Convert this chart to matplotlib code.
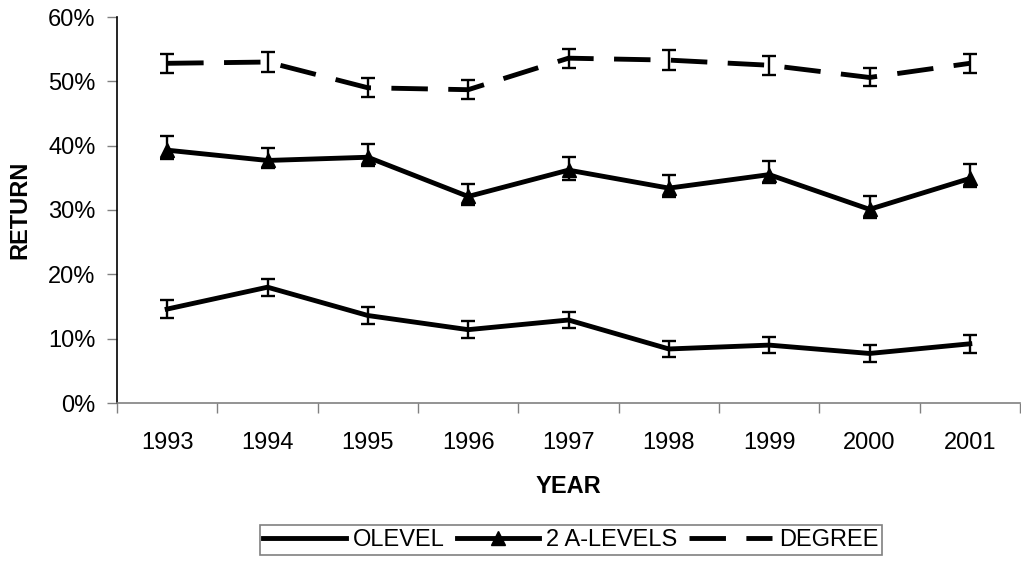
import matplotlib.pyplot as plt
from matplotlib.lines import Line2D
from matplotlib.ticker import PercentFormatter

plt.rcParams['font.family'] = ['Liberation Sans', 'DejaVu Sans']

years = ['1993', '1994', '1995', '1996', '1997', '1998', '1999', '2000', '2001']

# returns in percent
olevel = [14.6, 18.0, 13.6, 11.4, 12.9, 8.4, 9.0, 7.7, 9.2]
alevels = [39.3, 37.7, 38.2, 32.1, 36.2, 33.4, 35.5, 30.1, 34.9]
degree = [52.8, 53.0, 49.0, 48.7, 53.6, 53.3, 52.5, 50.6, 52.8]

# error bar half-widths (lower, upper)
olevel_err = [1.4, 1.3, 1.3, 1.3, 1.3, 1.3, 1.3, 1.3, 1.4]
alevels_lo = [1.3, 1.2, 1.3, 1.3, 1.5, 1.4, 1.3, 1.3, 1.4]
alevels_hi = [2.2, 2.0, 2.1, 2.0, 2.1, 2.0, 2.1, 2.0, 2.2]
degree_err = [1.5, 1.5, 1.5, 1.5, 1.5, 1.5, 1.5, 1.4, 1.5]

DASH = (7.5, 4.2)
LW = 3.5

fig = plt.figure(figsize=(10.21, 5.65), dpi=100)
ax = fig.add_axes([117 / 1021, 1 - 403 / 565, (1020 - 117) / 1021, (403 - 17) / 565])

x = list(range(len(years)))
ebkw = dict(ecolor='black', elinewidth=1.7, capsize=5, capthick=1.7)

ax.errorbar(x, olevel, yerr=olevel_err, color='black', lw=LW, **ebkw)
ax.errorbar(x, alevels, yerr=[alevels_lo, alevels_hi], color='black', lw=LW,
            marker='^', ms=10, **ebkw)
line, _, _ = ax.errorbar(x, degree, yerr=degree_err, color='black', lw=LW, **ebkw)
line.set_dashes(DASH)

ax.set_xlim(-0.5, len(years) - 0.5)
ax.set_ylim(0, 60)
ax.set_yticks([0, 10, 20, 30, 40, 50, 60])
ax.yaxis.set_major_formatter(PercentFormatter(decimals=0))
ax.set_xticks(x)
ax.set_xticklabels(years)
ax.set_xticks([i - 0.5 for i in range(len(years) + 1)], minor=True)
ax.tick_params(axis='x', which='major', length=0, labelsize=17, pad=21)
ax.tick_params(axis='x', which='minor', length=7, width=1, color='#808080')
ax.tick_params(axis='y', length=7, width=1, labelsize=17, color='#808080', pad=8.5)

for s in ['top', 'right']:
    ax.spines[s].set_visible(False)
ax.spines['bottom'].set_color('#808080')
ax.spines['bottom'].set_linewidth(1.2)
ax.spines['left'].set_linewidth(1.2)

ax.set_xlabel('YEAR', fontsize=17, fontweight='bold', labelpad=15)
ax.set_ylabel('RETURN', fontsize=17, fontweight='bold', labelpad=12)

handles = [
    Line2D([], [], color='black', lw=LW),
    Line2D([], [], color='black', lw=LW, marker='^', ms=10),
    Line2D([], [], color='black', lw=LW, dashes=DASH),
]
labels = ['OLEVEL', '2 A-LEVELS', 'DEGREE']
leg = fig.legend(handles, labels, loc='center', bbox_to_anchor=(571 / 1021, 1 - 540 / 565),
                 ncol=3, fontsize=17, frameon=True, fancybox=False, handlelength=3.5,
                 handletextpad=0.3, columnspacing=0.5, borderpad=0.15,
                 borderaxespad=0)
leg.get_frame().set_edgecolor('#606060')
leg.get_frame().set_linewidth(1.2)

fig.savefig('out.png', dpi=100)
